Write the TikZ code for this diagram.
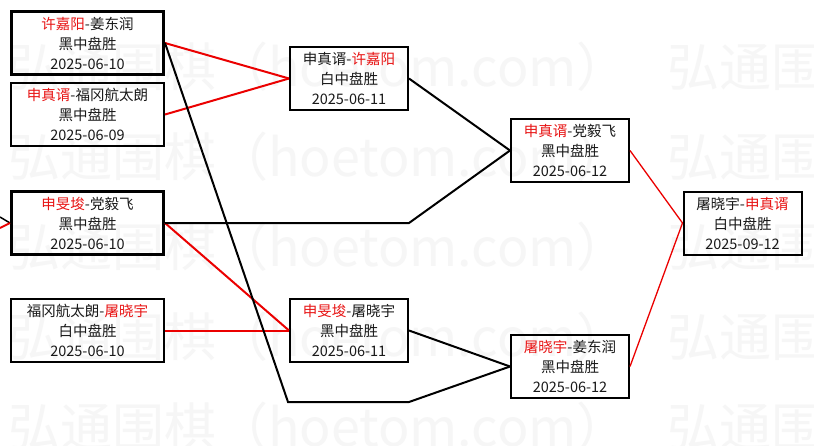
\documentclass[tikz,border=0pt]{standalone}
\usepackage{fontspec}
\setmainfont{Noto Sans CJK SC}
\definecolor{win}{RGB}{232,20,20}
\definecolor{lnred}{RGB}{235,0,0}
\definecolor{wm}{RGB}{246,246,246}
\begin{document}
\begin{tikzpicture}[x=1pt,y=-1pt,
  box/.style={draw=black, line width=2pt, inner sep=0pt, align=center,
    font=\fontsize{14.5}{20}\selectfont, text=black!90},
  lbox/.style={box, minimum width=153pt, minimum height=63pt},
  lboxthick/.style={box, line width=3pt, minimum width=152pt, minimum height=63pt},
  sbox/.style={box, minimum width=118pt, minimum height=63pt},
  rline/.style={draw=lnred, line width=2pt},
  rthin/.style={draw=lnred, line width=1.3pt},
  bline/.style={draw=black, line width=2pt},
  wmark/.style={anchor=west, text=wm, font=\fontsize{52}{52}\selectfont, inner sep=0pt}
]
\useasboundingbox (0,0) rectangle (814,445);
\fill[white] (0,0) rectangle (814,445);
% watermark
\foreach \yy/\k in {67/1,157/2,247/3,337/4,427/5}{
  \node[wmark] (wa\k) at (8,\yy) {弘通围棋（hoetom.com）};
  \node[wmark] (wb\k) at (667,\yy) {弘通围棋（hoetom.com）};
}
% boxes
\node[lboxthick] (A) at (87.5,43) {{\color{win}许嘉阳}-姜东润\\黑中盘胜\\2025-06-10};
\node[lbox] (B) at (87.5,114.5) {{\color{win}申真谞}-福冈航太朗\\黑中盘胜\\2025-06-09};
\node[lboxthick] (C) at (87.5,223) {{\color{win}申旻埈}-党毅飞\\黑中盘胜\\2025-06-10};
\node[lbox] (D) at (87.5,330.5) {福冈航太朗-{\color{win}屠晓宇}\\白中盘胜\\2025-06-10};
\node[sbox] (E) at (349,78.5) {申真谞-{\color{win}许嘉阳}\\白中盘胜\\2025-06-11};
\node[sbox] (F) at (349,330.5) {{\color{win}申旻埈}-屠晓宇\\黑中盘胜\\2025-06-11};
\node[sbox] (G) at (570,150.5) {{\color{win}申真谞}-党毅飞\\黑中盘胜\\2025-06-12};
\node[sbox] (H) at (570,366.5) {{\color{win}屠晓宇}-姜东润\\黑中盘胜\\2025-06-12};
\node[sbox] (I) at (742.5,223) {屠晓宇-{\color{win}申真谞}\\白中盘胜\\2025-09-12};
% bend coordinates
\coordinate (p1) at (288,402);
\coordinate (p2) at (409,402);
\coordinate (p3) at (409,223);
\coordinate (l1) at (0,217);
\coordinate (l2) at (0,228);
% connectors
\draw[rline] (A.east) -- (E.west);
\draw[rline] (B.east) -- (E.west);
\draw[rline] (C.east) -- (F.west);
\draw[rline] (D.east) -- (F.west);
\draw[bline] (A.east) -- (p1) -- (p2) -- (H.west);
\draw[bline] (C.east) -- (p3) -- (G.west);
\draw[bline] (E.east) -- (G.west);
\draw[bline] (F.east) -- (H.west);
\draw[rthin] (G.east) -- (I.west);
\draw[rthin] (H.east) -- (I.west);
\draw[draw=black, line width=1.5pt] (l1) -- (C.west);
\draw[rline] (l2) -- (C.west);
\end{tikzpicture}
\end{document}
